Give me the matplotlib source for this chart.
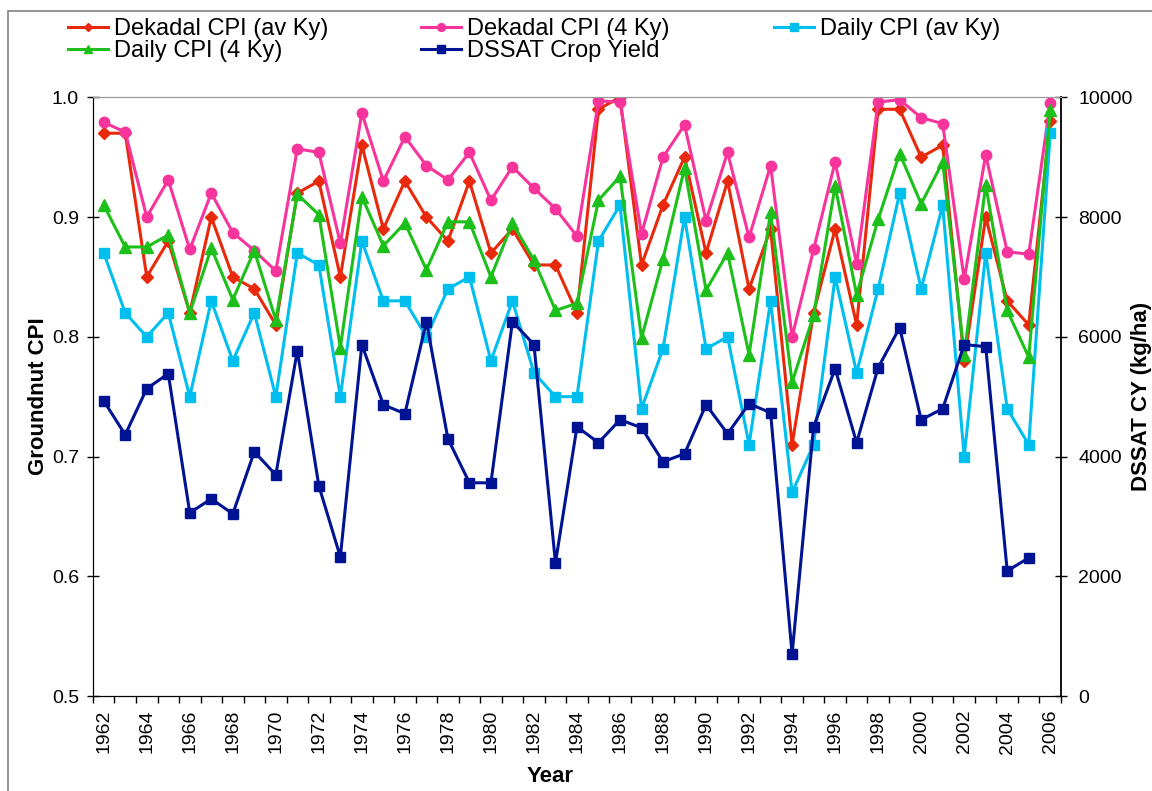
import matplotlib.pyplot as plt
from matplotlib.patches import Rectangle

plt.rcParams['font.family'] = ['Liberation Sans', 'DejaVu Sans']

years = list(range(1962, 2007))

dekadal_av = [0.97, 0.97, 0.85, 0.88, 0.82, 0.90, 0.85, 0.84, 0.81, 0.92,
              0.93, 0.85, 0.96, 0.89, 0.93, 0.90, 0.88, 0.93, 0.87, 0.89,
              0.86, 0.86, 0.82, 0.99, 1.00, 0.86, 0.91, 0.95, 0.87, 0.93,
              0.84, 0.89, 0.71, 0.82, 0.89, 0.81, 0.99, 0.99, 0.95, 0.96,
              0.78, 0.90, 0.83, 0.81, 0.98]
dekadal_4 = [0.979, 0.971, 0.900, 0.931, 0.873, 0.920, 0.887, 0.872, 0.855, 0.957,
             0.954, 0.878, 0.987, 0.930, 0.967, 0.943, 0.931, 0.954, 0.914, 0.942,
             0.924, 0.907, 0.884, 0.997, 0.996, 0.886, 0.950, 0.977, 0.897, 0.954,
             0.883, 0.943, 0.800, 0.873, 0.946, 0.861, 0.996, 0.998, 0.983, 0.978,
             0.848, 0.952, 0.871, 0.869, 0.995]
daily_av = [0.87, 0.82, 0.80, 0.82, 0.75, 0.83, 0.78, 0.82, 0.75, 0.87,
            0.86, 0.75, 0.88, 0.83, 0.83, 0.80, 0.84, 0.85, 0.78, 0.83,
            0.77, 0.75, 0.75, 0.88, 0.91, 0.74, 0.79, 0.90, 0.79, 0.80,
            0.71, 0.83, 0.67, 0.71, 0.85, 0.77, 0.84, 0.92, 0.84, 0.91,
            0.70, 0.87, 0.74, 0.71, 0.97]
daily_4 = [0.910, 0.875, 0.875, 0.885, 0.820, 0.874, 0.831, 0.872, 0.814, 0.919,
           0.902, 0.791, 0.917, 0.876, 0.895, 0.856, 0.896, 0.896, 0.850, 0.895,
           0.864, 0.822, 0.828, 0.914, 0.934, 0.799, 0.865, 0.941, 0.839, 0.870,
           0.785, 0.904, 0.762, 0.818, 0.926, 0.835, 0.898, 0.953, 0.911, 0.946,
           0.785, 0.927, 0.822, 0.783, 0.989]
# DSSAT yield stops at 2005
dssat = [4930, 4365, 5134, 5385, 3060, 3294, 3043, 4080, 3695, 5769,
         3512, 2324, 5870, 4866, 4716, 6254, 4298, 3562, 3562, 6254,
         5870, 2224, 4498, 4231, 4615, 4482, 3913, 4047, 4866, 4381,
         4883, 4732, 702, 4498, 5468, 4231, 5485, 6154, 4615, 4799,
         5870, 5836, 2090, 2308]

fig = plt.figure(figsize=(11.52, 7.91), dpi=100)
ax = fig.add_axes([0.0807, 0.120, 0.8403, 0.757])
ax2 = ax.twinx()

ms = 7.5
lw = 2.2
l1, = ax.plot(years, dekadal_av, color='#E8290C', marker='D', ms=ms - 1.5, lw=lw,
              label='Dekadal CPI (av Ky)')
l2, = ax.plot(years, dekadal_4, color='#F7349B', marker='o', ms=ms, lw=lw,
              label='Dekadal CPI (4 Ky)')
l3, = ax.plot(years, daily_av, color='#00BFEF', marker='s', ms=ms, lw=lw,
              label='Daily CPI (av Ky)')
l4, = ax.plot(years, daily_4, color='#1DBF1A', marker='^', ms=ms + 1, lw=lw,
              label='Daily CPI (4 Ky)')
l5, = ax2.plot(years[:len(dssat)], dssat, color='#001393', marker='s', ms=ms, lw=lw,
               label='DSSAT Crop Yield')

ax.set_xlim(1961.5, 2006.5)
ax.set_ylim(0.5, 1.0)
ax2.set_ylim(0, 10000)

ax.set_yticks([0.5, 0.6, 0.7, 0.8, 0.9, 1.0])
ax.set_yticklabels(['0.5', '0.6', '0.7', '0.8', '0.9', '1.0'])
ax2.set_yticks(range(0, 10001, 2000))

ax.set_xticks(years[::2])
ax.set_xticklabels([str(y) for y in years[::2]], rotation=90)
ax.set_xticks([y - 0.5 for y in years] + [2006.5], minor=True)
ax.tick_params(axis='x', which='major', length=0, pad=10, labelsize=14)
ax.tick_params(axis='x', which='minor', length=5, width=1, direction='out')
ax.tick_params(axis='y', length=8, width=1, direction='inout', labelsize=14, pad=6)
ax2.tick_params(axis='y', length=9, width=1, direction='inout', labelsize=14, pad=8)

ax.spines['top'].set_color('#999999')
ax2.spines['top'].set_color('#999999')
ax2.spines['right'].set_linewidth(1.3)
ax.spines['right'].set_visible(False)

ax.set_ylabel('Groundnut CPI', fontsize=16, fontweight='bold', va='center')
ax.yaxis.set_label_coords(-0.056, 0.5)
ax2.set_ylabel('DSSAT CY (kg/ha)', fontsize=16, fontweight='bold', va='center')
ax2.yaxis.set_label_coords(1.083, 0.5)
ax.set_xlabel('Year', fontsize=16, fontweight='bold', va='center')
ax.xaxis.set_label_coords(0.4725, -0.134)

# Excel lays the legend out in equal-width columns, so one legend per column
columns = [([l1, l4], 68), ([l2, l5], 421), ([l3], 774)]
for hs, xpx in columns:
    lg = fig.legend(hs, [h.get_label() for h in hs], loc='upper left',
                    bbox_to_anchor=(xpx / 1152, 1 - 18 / 791), frameon=False,
                    fontsize=17, handlelength=1.7, handletextpad=0.25,
                    labelspacing=0.0, borderpad=0, borderaxespad=0,
                    markerscale=0.75)

# chart area border
fig.patches.append(Rectangle((8 / 1152, -0.1), 1.2, 1 - 11 / 791 + 0.1,
                             transform=fig.transFigure, fill=False,
                             edgecolor='#808080', lw=1.2, clip_on=False))

fig.savefig('out.png', dpi=100)
